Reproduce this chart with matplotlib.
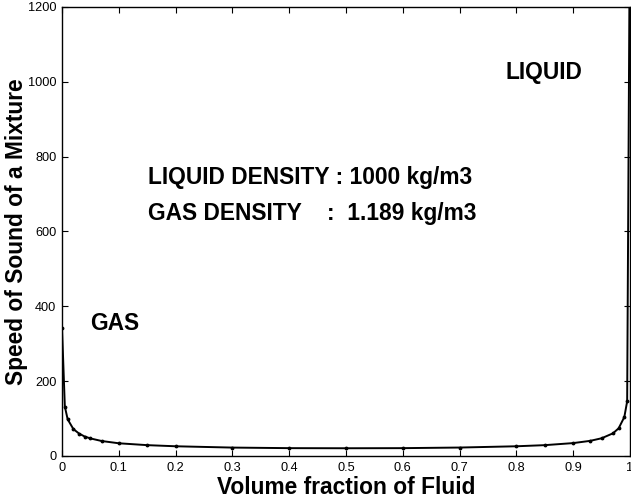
import matplotlib
matplotlib.use("Agg")
import matplotlib.pyplot as plt

plt.rcParams['font.family'] = ['Liberation Sans', 'DejaVu Sans']

# volume fraction of fluid and speed of sound
fraction = [0.0, 0.005, 0.01, 0.02, 0.03, 0.04, 0.05, 0.07, 0.1, 0.15, 0.2,
            0.3, 0.4, 0.5, 0.6, 0.7, 0.8, 0.85, 0.9, 0.93, 0.95, 0.97,
            0.98, 0.99, 0.995, 1.0]
speed = [343, 132, 98, 72, 60, 52, 47, 40, 34, 29, 26,
         22.5, 21, 20.7, 21, 22.6, 26, 29, 34.5, 40.5, 47.4, 60.6,
         74, 104, 146, 1500]

x_ticks = [0, 0.1, 0.2, 0.3, 0.4, 0.5, 0.6, 0.7, 0.8, 0.9, 1]
x_tick_labels = ['0', '0.1', '0.2', '0.3', '0.4', '0.5', '0.6', '0.7', '0.8', '0.9', '1']
y_ticks = [0, 200, 400, 600, 800, 1000, 1200]

fig = plt.figure(figsize=(6.31, 5.04), dpi=100)
ax = fig.add_axes([62 / 631, 48 / 504, 568 / 631, 449 / 504])

ax.plot(fraction, speed, color='black', linewidth=1.4, marker='.',
        markersize=3.5)

ax.set_xlim(0, 1)
ax.set_ylim(0, 1200)
ax.set_xticks(x_ticks)
ax.set_xticklabels(x_tick_labels)
ax.set_yticks(y_ticks)
ax.tick_params(direction='in', length=4, width=0.8, top=True, right=True,
               labelsize=9.2, pad=4)
for s in ax.spines.values():
    s.set_linewidth(1.0)

ax.set_xlabel('Volume fraction of Fluid', fontsize=16.4, fontweight='bold',
              labelpad=2)
ax.set_ylabel('Speed of Sound of a Mixture', fontsize=16.4, fontweight='bold',
              labelpad=0)

# annotations
ax.text(0.78, 1026, 'LIQUID', fontsize=16.4, fontweight='bold', va='center')
ax.text(0.151, 743, 'LIQUID DENSITY : 1000 kg/m3', fontsize=16.4,
        fontweight='bold', va='center')
ax.text(0.151, 647, 'GAS DENSITY    :  1.189 kg/m3', fontsize=16.4,
        fontweight='bold', va='center')
ax.text(0.049, 355, 'GAS', fontsize=16.4, fontweight='bold', va='center')

fig.savefig('out.png', dpi=100)
